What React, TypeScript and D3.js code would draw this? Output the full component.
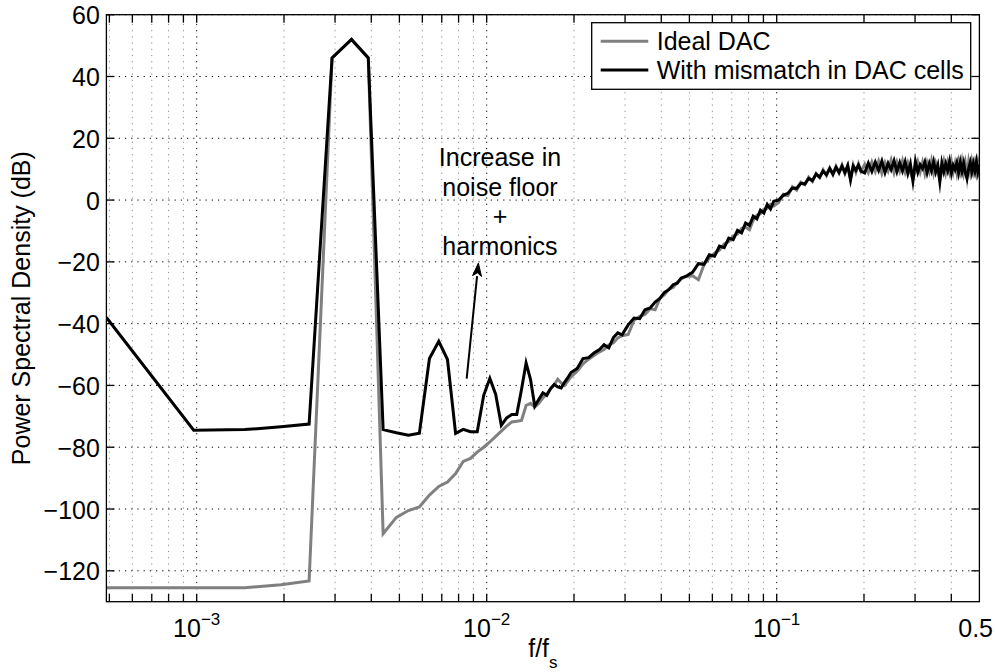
import React from 'react';
import * as d3 from 'd3';

const W = 995;
const H = 672;
const FFT_LEN = 2048;

// FFT bin indices (frequency = bin / FFT_LEN, normalised to fs)
const bins = [
  1, 2, 3, 4, 5, 6, 7, 8, 9, 10, 11, 12, 13, 14, 15, 16, 17, 18, 19, 20,
  21, 22, 23, 24, 25, 26, 27, 28, 29, 30, 31, 32, 33, 34, 35, 36, 37, 38, 39, 40,
  42, 44, 46, 48, 50, 52, 54, 56, 58, 60,
  63, 66, 69, 72, 75, 78, 81, 84, 87, 90, 93, 96, 99,
  105, 110, 115, 120, 125, 130, 135, 140, 145, 150, 155, 160, 165, 170, 175, 180, 185, 190, 195, 200,
  208, 216, 224, 232, 240, 248, 256, 264, 272, 280, 288, 296, 304, 312, 320, 328, 336, 344, 352, 360,
  368, 376, 384, 392, 400,
  412, 424, 436, 448, 460, 472, 484, 496, 508, 520, 532, 544, 556, 568, 580, 592, 604, 616, 628, 640,
  652, 664, 676, 688, 700, 712, 724, 736, 748, 760, 772, 784, 796, 808, 820, 832, 844, 856, 868, 880,
  892, 904, 916, 928, 940, 952, 964, 976, 988, 1000, 1012, 1024,
];

const idealDb = [
  -125.5, -125.5, -125.5, -124.5, -123.3, 46, 52, 46, -108, -102.7, -100.5, -99.3, -95.5, -92.7, -91.3, -88.5, -84.6, -83.6, -81.6, -80,
  -78.3, -76.5, -74.8, -73.2, -71.8, -71.6, -71.3, -66.5, -65.8, -67, -65.8, -64, -62.8, -61.2, -59.8, -58, -59.2, -60, -58.6, -57.2,
  -55.4, -53, -51.5, -50.3, -49.2, -48.4, -46.9, -46.2, -44.6, -43.9,
  -43.5, -38.9, -37.6, -37, -35.2, -35.5, -31.8, -30.6, -28.8, -28.3, -26.6, -25.5, -24.8,
  -24.5, -25.8, -20.9, -18.8, -17.2, -16.2, -14.2, -13.4, -11.6, -11.0, -9.2, -8.8, -9.6, -6.5, -4.9, -4.4, -2.9, -2.7, -1.4, -1.9,
  -0.8, 1.9, 1.5, 4.3, 3.2, 5.8, 5.0, 7.4, 6.0, 8.6, 7.3, 9.8, 7.9, 10.4, 8.3, 10.9, 8.8, 11.3, 8.6, 11.1,
  7.0, 11.4, 9.0, 11.7, 9.3,
  11.6, 8.9, 12.3, 9.3, 12.6, 8.7, 12.1, 9.5, 12.9, 8.9, 12.3, 9.4, 12.7, 9.1, 12.0, 8.8, 6.9, 9.7, 12.4, 9.2,
  12.2, 8.6, 12.0, 9.3, 12.7, 8.8, 11.9, 9.6, 6.4, 9.5, 12.5, 9.0, 12.1, 9.2, 12.4, 9.1, 11.8, 8.7, 12.3, 9.4,
  12.6, 8.9, 11.8, 7.5, 12.2, 9.1, 12.4, 9.5, 12.0, 9.0, 12.1, 9.4,
];

const mismatchDb = [
  -38, -74.5, -74.3, -73.4, -72.5, 46, 52, 46, -74.3, -75.3, -76.1, -75.5, -51.3, -45.7, -51.6, -75.5, -74.2, -75, -75, -63.2,
  -57.7, -62.9, -72.9, -70.5, -69.4, -69.4, -61.3, -52.7, -58, -66.7, -64.5, -62.4, -63.2, -61, -59.7, -60.5, -60.8, -59, -57.5, -55.8,
  -54.5, -51.3, -51, -49.5, -48.5, -46.8, -47.8, -44.5, -43, -43.6,
  -40.4, -38.2, -38.4, -35.5, -34.9, -33, -31.8, -29.9, -29, -27.4, -26.9, -25.2, -24.8,
  -23.4, -20.6, -20.8, -17.7, -18.2, -14.9, -15.4, -12.3, -12.8, -9.8, -10.6, -7.4, -8.2, -5.2, -6.1, -3.3, -4.2, -1.4, -2.9, -0.4,
  0.0, 1.6, 2.2, 3.9, 3.8, 5.4, 5.2, 7.0, 6.3, 8.4, 7.4, 9.4, 8.2, 10.2, 8.4, 10.6, 8.9, 11.0, 8.9, 11.2,
  6.5, 11.0, 9.6, 11.3, 9.4,
  8.8, 12.0, 9.3, 12.3, 9.6, 12.6, 8.9, 11.9, 9.8, 12.7, 9.2, 12.1, 9.4, 12.4, 8.6, 11.7, 6.2, 12.5, 9.0, 11.4,
  10.2, 12.3, 8.9, 11.8, 9.5, 12.4, 9.1, 11.3, 6.0, 12.0, 9.2, 11.8, 9.6, 12.5, 8.7, 11.2, 9.9, 12.0, 8.9, 12.2,
  9.3, 11.9, 8.8, 7.0, 10.1, 12.1, 9.2, 11.8, 9.4, 12.3, 9.1, 11.4,
];

const seriesNames = ['Ideal DAC', 'With mismatch in DAC cells'];
const seriesColors = ['#808080', '#000000'];

const yTicks = [-120, -100, -80, -60, -40, -20, 0, 20, 40, 60];
const xMajorTicks = [1e-3, 1e-2, 1e-1];
const xMajorExp = ['\u22123', '\u22122', '\u22121'];
const xExtraTick = 0.5;
const xExtraLabel = '0.5';
const minorMultipliers = [2, 3, 4, 5, 6, 7, 8, 9];
const minorDecades = [1e-4, 1e-3, 1e-2, 1e-1];

const annotationLines = ['Increase in', 'noise floor', '+', 'harmonics'];
const annotationAnchor = { f: 0.01111, db: 11 };
const arrowTail = { f: 8.53e-3, db: -57.8 };
const arrowTip = { f: 9.36e-3, db: -20.4 };

const FONT = '"Liberation Sans", Arial, Helvetica, sans-serif';
const FS = 25;

export default function App() {
  const x = d3.scaleLog().domain([1 / FFT_LEN, 0.5]).range([106.4, 979.4]);
  const y = d3.scaleLinear().domain([-130, 60]).range([601.7, 14.7]);
  const [x0, x1] = x.range();
  const [yb, yt] = y.range();

  const freqs = bins.map((k) => k / FFT_LEN);
  const line = d3
    .line<number>()
    .x((_, i) => x(freqs[i]))
    .y((d) => y(d));

  const minorTicks: number[] = [];
  minorDecades.forEach((d) =>
    minorMultipliers.forEach((m) => {
      const v = d * m;
      if (v >= x.domain()[0] && v < x.domain()[1]) minorTicks.push(v);
    })
  );

  const tickLen = 8;

  // arrow
  const tx = x(arrowTail.f), ty = y(arrowTail.db);
  const hx = x(arrowTip.f), hy = y(arrowTip.db);
  const ang = Math.atan2(hy - ty, hx - tx);
  const headL = 13, headW = 4.5;
  const bx = hx - headL * Math.cos(ang), by = hy - headL * Math.sin(ang);
  const nx = -Math.sin(ang), ny = Math.cos(ang);
  const notchX = hx - headL * 0.75 * Math.cos(ang), notchY = hy - headL * 0.75 * Math.sin(ang);
  const headPath = `M${hx},${hy}L${bx + nx * headW},${by + ny * headW}L${notchX},${notchY}L${bx - nx * headW},${by - ny * headW}Z`;

  const legX = 591.7, legY = 22.7, legW = 379, legH = 66.6;

  return (
    <svg
      width={W}
      height={H}
      style={{ position: 'absolute', left: 0, top: 0, background: '#fff' }}
      fontFamily={FONT}
    >
      <rect x={0} y={0} width={W} height={H} fill="#fff" />
      <defs>
        <clipPath id="plotClip">
          <rect x={x0} y={yt} width={x1 - x0} height={yb - yt} />
        </clipPath>
      </defs>

      {/* grid */}
      <g fill="none" strokeWidth={1}>
        {minorTicks.map((v) => (
          <line key={'mg' + v} x1={x(v)} x2={x(v)} y1={yb} y2={yt} stroke="#8a8a8a" strokeDasharray="1.2,5" />
        ))}
        {xMajorTicks.map((v) => (
          <line key={'Mg' + v} x1={x(v)} x2={x(v)} y1={yb} y2={yt} stroke="#000" strokeDasharray="1.2,5" />
        ))}
        {yTicks.map((v) => (
          <line key={'yg' + v} x1={x0} x2={x1} y1={y(v)} y2={y(v)} stroke="#000" strokeDasharray="1.2,5" />
        ))}
      </g>

      {/* data */}
      <g clipPath="url(#plotClip)" fill="none" strokeWidth={3} strokeLinejoin="miter" strokeMiterlimit={10}>
        <path d={line(idealDb) || ''} stroke={seriesColors[0]} />
        <path d={line(mismatchDb) || ''} stroke={seriesColors[1]} />
      </g>

      {/* axes box and ticks */}
      <g stroke="#000" strokeWidth={1.3} fill="none">
        <rect x={x0} y={yt} width={x1 - x0} height={yb - yt} />
        {[...minorTicks, ...xMajorTicks].map((v) => (
          <g key={'xt' + v}>
            <line x1={x(v)} x2={x(v)} y1={yb} y2={yb - tickLen} />
            <line x1={x(v)} x2={x(v)} y1={yt} y2={yt + tickLen} />
          </g>
        ))}
        {yTicks.map((v) => (
          <g key={'yt' + v}>
            <line x1={x0} x2={x0 + tickLen} y1={y(v)} y2={y(v)} />
            <line x1={x1} x2={x1 - tickLen} y1={y(v)} y2={y(v)} />
          </g>
        ))}
      </g>

      {/* y tick labels */}
      <g fontSize={FS} textAnchor="end" fill="#000">
        {yTicks.map((v) => (
          <text key={'yl' + v} x={x0 - 6.5} y={y(v) + 9.5}>
            {v < 0 ? '\u2212' + Math.abs(v) : String(v)}
          </text>
        ))}
      </g>

      {/* x tick labels */}
      <g fontSize={FS} textAnchor="middle" fill="#000">
        {xMajorTicks.map((v, i) => (
          <text key={'xl' + v} x={x(v)} y={637}>
            10
            <tspan fontSize={17} dy={-12.5}>
              {xMajorExp[i]}
            </tspan>
          </text>
        ))}
        <text x={Math.min(x(xExtraTick) + 17, W - 2)} y={637} textAnchor="end">
          {xExtraLabel}
        </text>
      </g>

      {/* axis labels */}
      <text x={(x0 + x1) / 2} y={656.7} fontSize={FS} textAnchor="middle" fill="#000">
        f/f
        <tspan fontSize={17} dy={11.5}>
          s
        </tspan>
      </text>
      <text
        transform={`translate(30,${(yt + yb) / 2}) rotate(-90)`}
        fontSize={FS}
        textAnchor="middle"
        fill="#000"
      >
        Power Spectral Density (dB)
      </text>

      {/* annotation */}
      <g fontSize={FS} textAnchor="middle" fill="#000">
        {annotationLines.map((t, i) => (
          <text key={'an' + i} x={x(annotationAnchor.f)} y={y(annotationAnchor.db) + i * 29.5}>
            {t}
          </text>
        ))}
      </g>
      <line x1={tx} y1={ty} x2={bx} y2={by} stroke="#000" strokeWidth={2} />
      <path d={headPath} fill="#000" stroke="#000" strokeWidth={1} />

      {/* legend */}
      <g>
        <rect x={legX} y={legY} width={legW} height={legH} fill="#fff" stroke="#000" strokeWidth={1.3} />
        {seriesNames.map((name, i) => (
          <g key={name}>
            <line
              x1={600.7}
              x2={648.3}
              y1={41.3 + i * 28.7}
              y2={41.3 + i * 28.7}
              stroke={seriesColors[i]}
              strokeWidth={3}
            />
            <text x={656.7} y={49.5 + i * 29.3} fontSize={FS} fill="#000">
              {name}
            </text>
          </g>
        ))}
      </g>
    </svg>
  );
}
